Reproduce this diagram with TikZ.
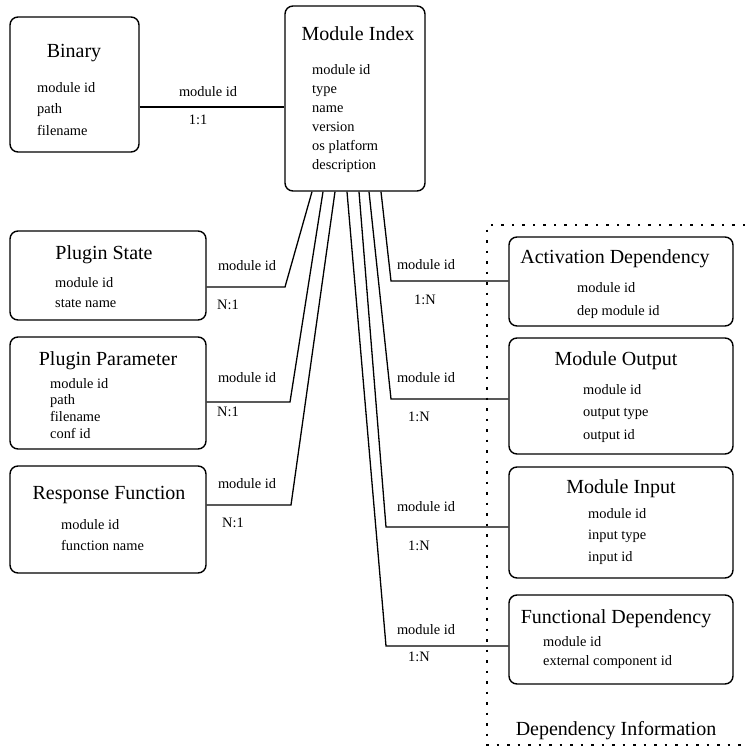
\documentclass[tikz,border=0pt]{standalone}
\usepackage{fontspec}
\setmainfont{Liberation Serif}
\usetikzlibrary{positioning}

\begin{document}
\begin{tikzpicture}[
      x=1pt, y=-1pt,
      entity/.style={draw, line width=1.4pt, rounded corners=8pt, inner sep=0pt},
      title/.style={font=\fontsize{20}{24}\selectfont, anchor=base, inner sep=0pt},
      fields/.style={font=\fontsize{14.4}{#1}\selectfont, align=left, anchor=north west, inner sep=0pt},
      fields/.default=21,
      lbl/.style={font=\fontsize{14.4}{17}\selectfont, inner sep=0pt},
      link/.style={line width=1.3pt},
      group/.style={line width=1.4pt, dash pattern=on 2.5pt off 8pt}
    ]
    \useasboundingbox (0,0) rectangle (745,747);

    % --- Central table ---
    \node[entity, minimum width=140pt, minimum height=185pt] (idx) at (355,98.5) {};
    \node[title] (idx-t) at (358,40) {Module Index};
    \node[fields=19] (idx-f) at (312,64) {module id\\ type\\ name\\ version\\ os platform\\ description};

    % --- Left tables ---
    \node[entity, minimum width=129pt, minimum height=135pt] (bin) at (74.5,84.5) {};
    \node[title] (bin-t) at (74,57) {Binary};
    \node[fields=21.5] (bin-f) at (37,82) {module id\\ path\\ filename};

    \node[entity, minimum width=196pt, minimum height=89pt] (ps) at (108,275.5) {};
    \node[title] (ps-t) at (104,259) {Plugin State};
    \node[fields=20] (ps-f) at (55,277) {module id\\ state name};

    \node[entity, minimum width=196pt, minimum height=112pt] (pp) at (108,393) {};
    \node[title] (pp-t) at (108,365) {Plugin Parameter};
    \node[fields=16.7] (pp-f) at (50,378) {module id\\ path\\ filename\\ conf id};

    \node[entity, minimum width=196pt, minimum height=107pt] (rf) at (108,519.5) {};
    \node[title] (rf-t) at (109,499) {Response Function};
    \node[fields=21.5] (rf-f) at (61,519) {module id\\ function name};

    % --- Right tables (dependency information) ---
    \node[entity, minimum width=224pt, minimum height=89pt] (act) at (621,281.5) {};
    \node[title] (act-t) at (615,263) {Activation Dependency};
    \node[fields=23] (act-f) at (577,282) {module id\\ dep module id};

    \node[entity, minimum width=224pt, minimum height=116pt] (out) at (621,396) {};
    \node[title] (out-t) at (616,365) {Module Output};
    \node[fields=22.5] (out-f) at (583,384) {module id\\ output type\\ output id};

    \node[entity, minimum width=224pt, minimum height=111pt] (in) at (621,522.5) {};
    \node[title] (in-t) at (621,493) {Module Input};
    \node[fields=21.5] (in-f) at (588,508) {module id\\ input type\\ input id};

    \node[entity, minimum width=224pt, minimum height=89pt] (func) at (621,639.5) {};
    \node[title] (func-t) at (616,623) {Functional Dependency};
    \node[fields=19] (func-f) at (543,636) {module id\\ external component id};

    \draw[group] (745,225) -- (487,225) -- (487,745) -- (745,745);
    \node[title] (deps) at (616,735) {Dependency Information};

    % --- Connectors ---
    \coordinate (i1) at ([xshift=-43pt]idx.south);
    \coordinate (i2) at ([xshift=-32pt]idx.south);
    \coordinate (i3) at ([xshift=-20pt]idx.south);
    \coordinate (i4) at ([xshift=-8pt]idx.south);
    \coordinate (i5) at ([xshift=4pt]idx.south);
    \coordinate (i6) at ([xshift=14pt]idx.south);
    \coordinate (i7) at ([xshift=26pt]idx.south);

    \coordinate (binlink) at ([yshift=-22.5pt]bin.east);
    \draw[link] (binlink) -- (binlink -| idx.west);
    \node[lbl] (bin-l) at (208,92) {module id};
    \node[lbl] (bin-c) at (198,120) {1:1};

    \coordinate (psbend) at (285,287);
    \coordinate (ppbend) at (290,402);
    \coordinate (rfbend) at (291,505);
    \draw[link] (ps.east |- psbend) -- (psbend) -- (i1);
    \draw[link] (pp.east |- ppbend) -- (ppbend) -- (i2);
    \draw[link] (rf.east |- rfbend) -- (rfbend) -- (i3);
    \node[lbl] (ps-l) at (247,266) {module id};
    \node[lbl] (ps-c) at (228,305) {N:1};
    \node[lbl] (pp-l) at (247,378) {module id};
    \node[lbl] (pp-c) at (228,412) {N:1};
    \node[lbl] (rf-l) at (247,484) {module id};
    \node[lbl] (rf-c) at (233,523) {N:1};

    \coordinate (actbend) at (391,281);
    \coordinate (outbend) at (391,399);
    \coordinate (inbend) at (386,527);
    \coordinate (funcbend) at (386,646);
    \draw[link] (i7) -- (actbend) -- (actbend -| act.west);
    \draw[link] (i6) -- (outbend) -- (outbend -| out.west);
    \draw[link] (i5) -- (inbend) -- (inbend -| in.west);
    \draw[link] (i4) -- (funcbend) -- (funcbend -| func.west);
    \node[lbl] (act-l) at (426,265) {module id};
    \node[lbl] (act-c) at (425,300) {1:N};
    \node[lbl] (out-l) at (426,378) {module id};
    \node[lbl] (out-c) at (419,417) {1:N};
    \node[lbl] (in-l) at (426,507) {module id};
    \node[lbl] (in-c) at (419,546) {1:N};
    \node[lbl] (func-l) at (426,630) {module id};
    \node[lbl] (func-c) at (419,657) {1:N};
  \end{tikzpicture}
\end{document}
